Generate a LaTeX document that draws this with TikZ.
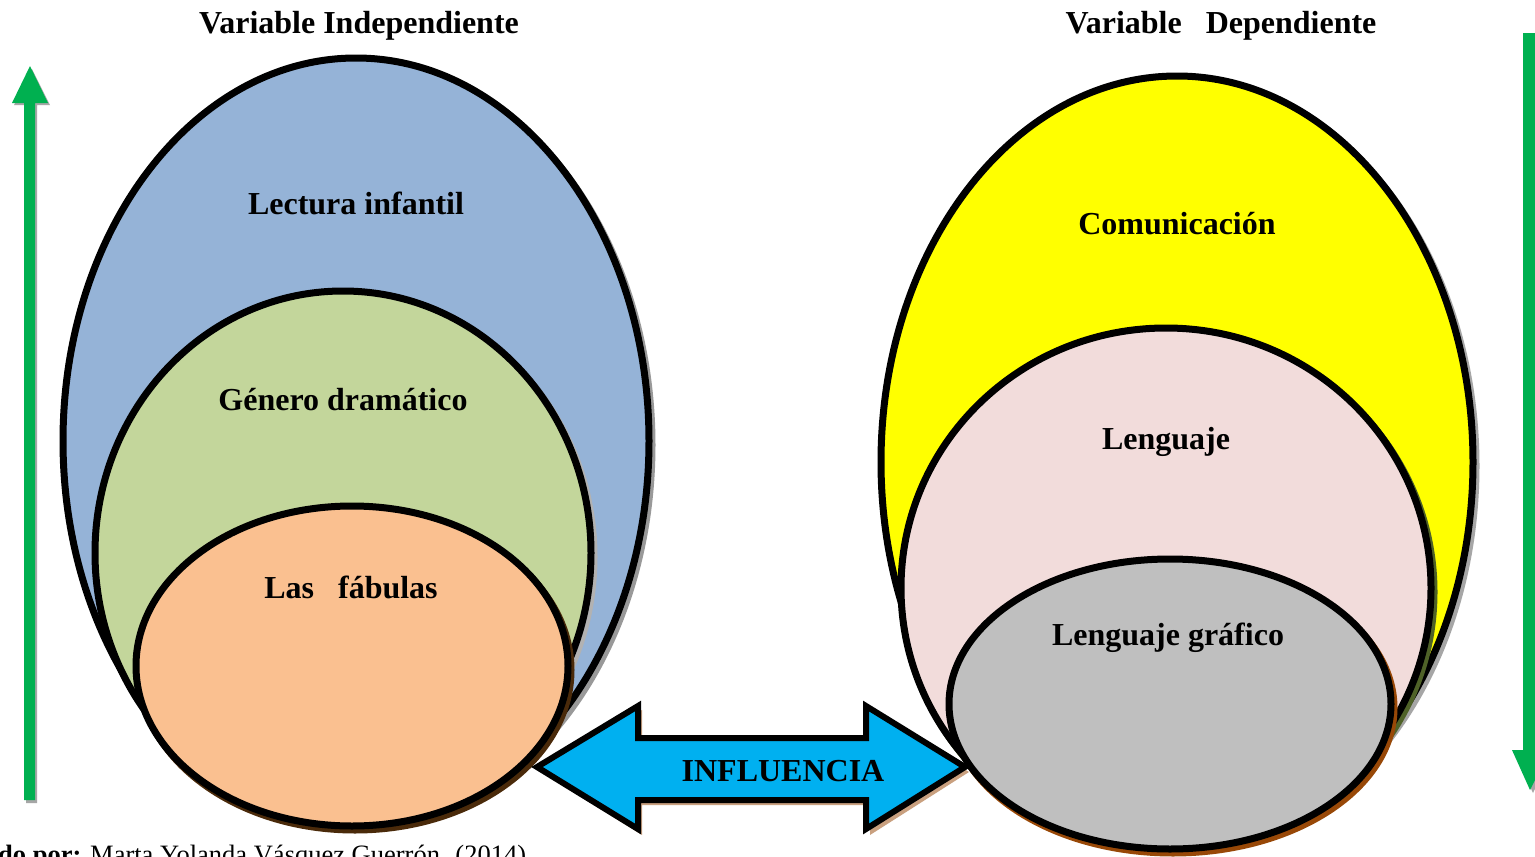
\documentclass[tikz,border=0pt]{standalone}
\usepackage{fontspec}
\setmainfont{Liberation Serif}
\begin{document}
\begin{tikzpicture}[x=1pt,y=-1pt,
  lbl/.style={font=\fontsize{32}{35}\selectfont\bfseries, anchor=base, inner sep=0pt},
  ring/.style={draw=black, line width=7pt},
  shade/.style={line width=7pt},
  greenarrow/.style={fill=arrowgreen, draw=none},
  greyshadow/.style={fill=black!35, draw=none}]
\definecolor{blueF}{HTML}{95B3D7}
\definecolor{greenF}{HTML}{C3D69B}
\definecolor{orangeF}{HTML}{FAC090}
\definecolor{yellowF}{HTML}{FFFF00}
\definecolor{pinkF}{HTML}{F2DCDB}
\definecolor{grayF}{HTML}{BFBFBF}
\definecolor{cyanF}{HTML}{00B0F0}
\definecolor{arrowgreen}{HTML}{00B050}
\definecolor{brownS}{HTML}{4A2A0A}
\definecolor{oliveS}{HTML}{4F6228}
\definecolor{rustS}{HTML}{984807}
\definecolor{tanS}{HTML}{C9A07F}
\useasboundingbox (0,0) rectangle (1535,857);
\clip (0,0) rectangle (1535,857);
\fill[white] (0,0) rectangle (1535,857);

% green vertical arrows
\fill[greyshadow] (26,803) -- (26,105) -- (14,105) -- (32,69) -- (50,105) -- (37,105) -- (37,803) -- cycle;
\fill[greenarrow] (24,800) -- (24,103) -- (12,103) -- (30,66) -- (48,103) -- (35,103) -- (35,800) -- cycle;
\fill[greyshadow] (1525,36) -- (1525,752) -- (1514,752) -- (1533,793) -- (1552,752) -- (1540,752) -- (1540,36) -- cycle;
\fill[greenarrow] (1523,33) -- (1523,750) -- (1512,750) -- (1530,790) -- (1550,750) -- (1538,750) -- (1538,33) -- cycle;

% left ellipses
\draw[shade, draw=black!40] (359,445) ellipse [x radius=293pt, y radius=383pt];
\draw[ring, fill=blueF] (356,441) ellipse [x radius=293pt, y radius=383pt];
\draw[shade, draw=black!30] (346,557) ellipse [x radius=248pt, y radius=262pt];
\draw[ring, fill=greenF] (343,553) ellipse [x radius=248pt, y radius=262pt];
\draw[shade, draw=brownS] (355,670) ellipse [x radius=216pt, y radius=160pt];
\draw[ring, fill=orangeF] (352,666) ellipse [x radius=216pt, y radius=160pt];

% right ellipses
\draw[shade, draw=black!35] (1180,466) ellipse [x radius=296pt, y radius=386pt];
\draw[ring, fill=yellowF] (1177,462) ellipse [x radius=296pt, y radius=386pt];
\draw[shade, draw=oliveS] (1169,592) ellipse [x radius=265pt, y radius=260pt];
\draw[ring, fill=pinkF] (1166,588) ellipse [x radius=265pt, y radius=260pt];
\draw[shade, draw=rustS] (1173,708) ellipse [x radius=221pt, y radius=145pt];
\draw[ring, fill=grayF] (1170,704) ellipse [x radius=221pt, y radius=145pt];

% double arrow
\fill[tanS] (541,772) -- (642,710) -- (642,742) -- (870,742) -- (870,710) -- (969,772) -- (870,835) -- (870,805) -- (642,805) -- (642,835) -- cycle;
\draw[line width=6pt, fill=cyanF, line join=miter] (537,767) -- (638,706) -- (638,738) -- (866,738) -- (866,706) -- (965,767) -- (866,829) -- (866,800) -- (638,800) -- (638,829) -- cycle;

% labels
\node[lbl] (vi) at (359,33) {Variable Independiente};
\node[lbl] (vd) at (1221,33) {Variable\ \ \ Dependiente};
\node[lbl] (lec) at (356,214) {Lectura infantil};
\node[lbl] (gen) at (343,410) {Género dramático};
\node[lbl] (fab) at (351,598) {Las\ \ \ fábulas};
\node[lbl] (com) at (1177,234) {Comunicación};
\node[lbl] (len) at (1166,449) {Lenguaje};
\node[lbl] (lg) at (1168,645) {Lenguaje gráfico};
\node[lbl] (inf) at (783,781) {INFLUENCIA};
\node[anchor=base west, inner sep=0pt, font=\fontsize{26.5}{30}\selectfont] (cap) at (-2,863) {\textbf{do por:} Marta Yolanda Vásquez Guerrón. (2014)};
\end{tikzpicture}
\end{document}
